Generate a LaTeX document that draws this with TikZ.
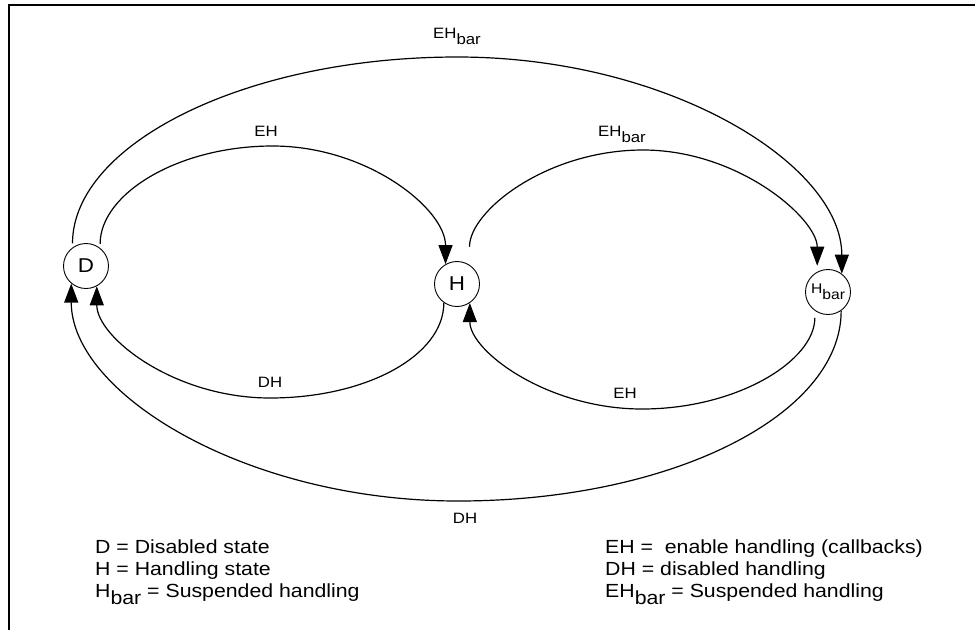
\documentclass[tikz,border=0pt]{standalone}
\usepackage{fontspec}
\setmainfont{Liberation Sans}[FakeStretch=1.12]
\usetikzlibrary{arrows.meta}
% lowered "bar" suffix used in H_bar and EH_bar
\newcommand\lowbar{\raisebox{-0.4em}{bar}}

\begin{document}
\begin{tikzpicture}[x=1pt,y=1pt,
  state/.style={circle,draw,line width=0.9pt,minimum size=45pt,inner sep=0pt,
                font=\fontsize{20}{20}\selectfont},
  link/.style={line width=1.2pt,-{Triangle[length=19pt,width=14pt]}},
  lbl/.style={font=\fontsize{15}{15}\selectfont,inner sep=0pt},
  key/.style={font=\fontsize{19}{22}\selectfont,inner sep=0pt,anchor=base west},
  frame/.style={line width=2.2pt,line join=miter}]
\useasboundingbox (0,0) rectangle (975,-630);

% open frame: top and left edges
\draw[frame] (975,-5) -- (9,-5) -- (9,-630);

% states
\node[state] (D) at (86,-266) {D};
\node[state] (H) at (457,-284) {H};
\node[state,font=\fontsize{14}{14}\selectfont] (Hb) at (828,-292) {H\lowbar};

% turning points of the transitions
\coordinate (t1) at (457.3,-57);
\coordinate (t2) at (272.7,-146);
\coordinate (t3) at (643,-150);
\coordinate (t4) at (270,-398);
\coordinate (t5) at (642,-409);
\coordinate (t6) at (458,-501);

% transitions over the top
\draw[link,shorten <=4pt] (D.126)
  to[out=90,in=180,out distance=103pt,in distance=213pt] (t1)
  to[out=0,in=90,out distance=212pt,in distance=109pt] (Hb.53);
\draw[link,shorten <=4pt] (D.52)
  to[out=90,in=180,out distance=54pt,in distance=95pt] (t2)
  to[out=0,in=90,out distance=95pt,in distance=55pt] (H.120);
\draw[link,shorten <=18pt,shorten >=6pt] (H.57)
  to[out=90,in=180,out distance=54pt,in distance=96pt] (t3)
  to[out=0,in=90,out distance=96pt,in distance=53pt] (Hb.118);

% transitions underneath
\draw[link] (H.235)
  to[out=-90,in=0,out distance=53pt,in distance=96pt] (t4)
  to[out=180,in=-90,out distance=96pt,in distance=51pt] (D.-62);
\draw[link,shorten <=7pt] (Hb.235)
  to[out=-90,in=0,out distance=50pt,in distance=95pt] (t5)
  to[out=180,in=-90,out distance=95pt,in distance=48pt] (H.-56);
\draw[link] (Hb.-55)
  to[out=-90,in=0,out distance=105pt,in distance=212pt] (t6)
  to[out=180,in=-90,out distance=212pt,in distance=110pt] (D.-130);

% transition labels
\node[lbl] (l1) at (457,-36) {EH\lowbar};
\node[lbl] (l2) at (266,-131) {EH};
\node[lbl] (l3) at (622,-134) {EH\lowbar};
\node[lbl] (l4) at (270,-382) {DH};
\node[lbl] (l5) at (625,-393) {EH};
\node[lbl] (l6) at (465,-518) {DH};

% legend
\node[key] (k1) at (95,-553) {D = Disabled state};
\node[key] (k2) at (95,-575) {H = Handling state};
\node[key] (k3) at (95,-597) {H\lowbar{} = Suspended handling};
\node[key] (k4) at (605,-553) {EH = \ enable handling (callbacks)};
\node[key] (k5) at (605,-575) {DH = disabled handling};
\node[key] (k6) at (605,-597) {EH\lowbar{} = Suspended handling};
\end{tikzpicture}
\end{document}
